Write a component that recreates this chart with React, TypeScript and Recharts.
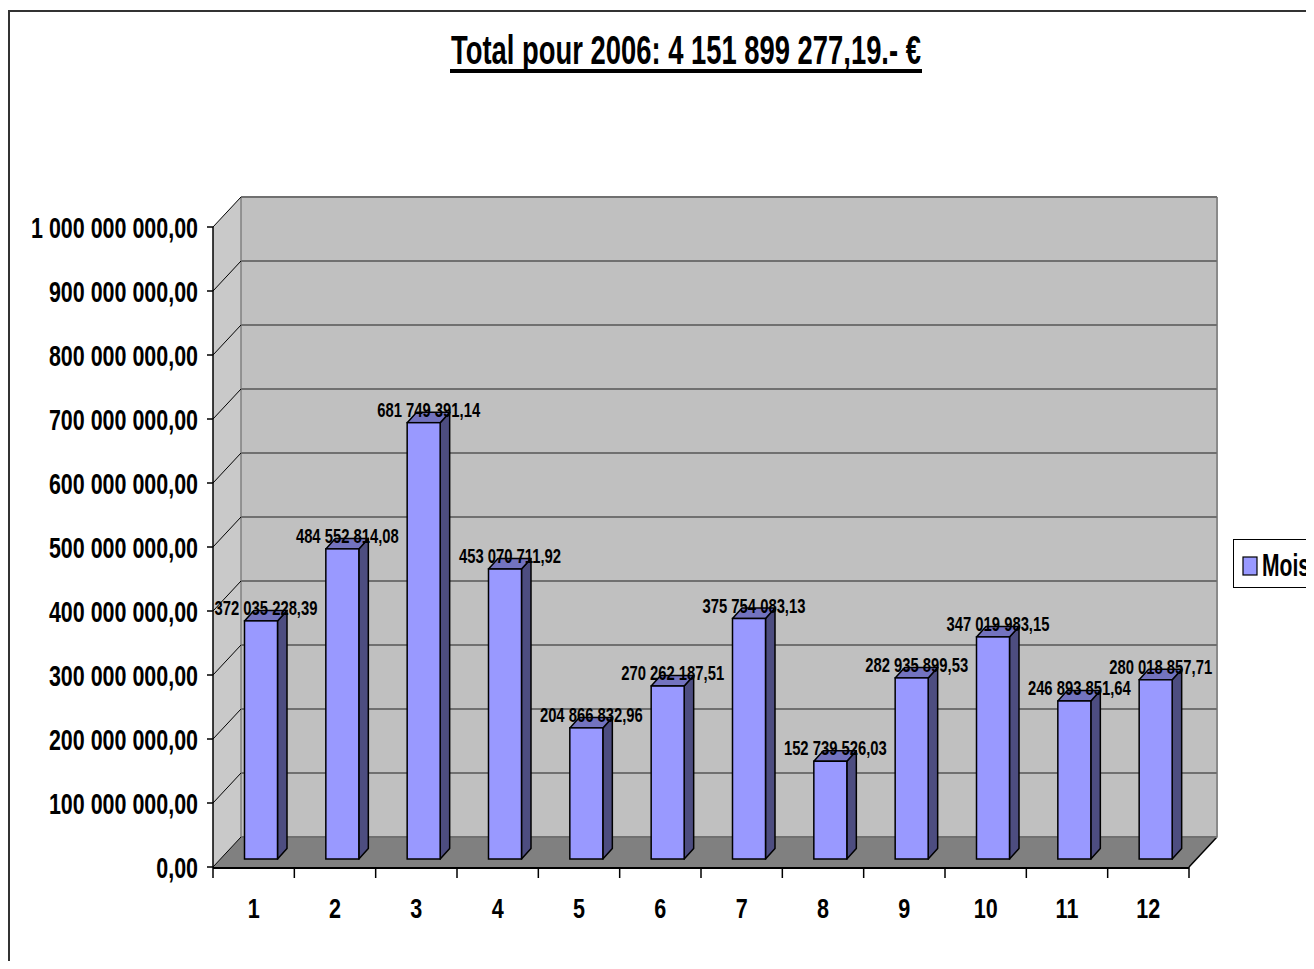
import React from 'react';
import { BarChart, Bar, XAxis, YAxis, CartesianGrid, LabelList } from 'recharts';

// ---- data ----
const months: string[] = ['1', '2', '3', '4', '5', '6', '7', '8', '9', '10', '11', '12'];
const totals: number[] = [
  372035228.39, 484552814.08, 681749391.14, 453070711.92, 204866832.96, 270262187.51,
  375754083.13, 152739526.03, 282935899.53, 347019983.15, 246893851.64, 280018857.71,
];
const yTicks: number[] = [0, 100000000, 200000000, 300000000, 400000000, 500000000, 600000000, 700000000, 800000000, 900000000, 1000000000];
const boundaryTicks: number[] = [0, 1, 2, 3, 4, 5, 6, 7, 8, 9, 10, 11, 12];
const titleText = 'Total pour 2006: 4 151 899 277,19.- €';
const seriesName = 'Mois';

const data = months.map((m, i) => ({ month: m, value: totals[i], pos: i + 0.5 }));

// ---- styling constants ----
const W = 1306;
const H = 953;
const FONT = "'Liberation Sans', Arial, sans-serif";
const DX = 28; // wall depth x
const DY = 30; // wall depth y
const BX = 7.5; // bar placement depth
const BY = 8;
const SX = 9.5; // bar own depth
const SY = 10.5;

function fmt(v: number): string {
  const [i, d] = v.toFixed(2).split('.');
  return i.replace(/\B(?=(\d{3})+(?!\d))/g, ' ') + ',' + d;
}

const YTick = (props: any) => {
  const { x, y, payload } = props;
  return (
    <text
      transform={`translate(${x},${y + 10.5}) scale(0.74,1)`}
      textAnchor="end"
      fontSize={29}
      fontWeight="bold"
      fontFamily={FONT}
      fill="#000"
    >
      {fmt(payload.value)}
    </text>
  );
};

const XTick = (props: any) => {
  const { x, y, payload } = props;
  return (
    <text
      transform={`translate(${x},${y}) scale(0.77,1)`}
      textAnchor="middle"
      fontSize={28}
      fontWeight="bold"
      fontFamily={FONT}
      fill="#000"
    >
      {payload.value}
    </text>
  );
};

const EmptyTick = () => <g />;

const GridLine = (props: any) => {
  const { x1, y1, x2, index, x, y, width, height } = props;
  const walls =
    index === 0 && x != null && width != null ? (
      <g>
        <polygon
          points={`${x},${y + height} ${x},${y} ${x + DX},${y - DY} ${x + DX},${y + height - DY}`}
          fill="#c9c9c9"
        />
        <rect x={x + DX} y={y - DY} width={width} height={height} fill="#c0c0c0" />
        <polygon
          points={`${x},${y + height} ${x + width},${y + height} ${x + width + DX},${y + height - DY} ${x + DX},${y + height - DY}`}
          fill="#808080"
        />
        <line x1={x + DX} y1={y - DY} x2={x + DX} y2={y + height - DY} stroke="#808080" strokeWidth={1.5} />
        <line x1={x + width + DX} y1={y - DY} x2={x + width + DX} y2={y + height - DY} stroke="#8a8a8a" strokeWidth={2} />
        <line x1={x + width} y1={y + height} x2={x + width + DX} y2={y + height - DY} stroke="#000" strokeWidth={1.5} />
      </g>
    ) : null;
  return (
    <g key={props.key}>
      {walls}
      <line x1={x1} y1={y1} x2={x1 + DX} y2={y1 - DY} stroke="#000" strokeWidth={1} />
      <line x1={x1 + DX} y1={y1 - DY} x2={x2 + DX} y2={y1 - DY} stroke="#707070" strokeWidth={1.8} />
    </g>
  );
};

const Bar3D = (props: any) => {
  const { x, y, width, height } = props;
  if (width == null || height == null) return null;
  const fx = x + BX;
  const fy = y - BY;
  return (
    <g>
      <polygon
        points={`${fx + width},${fy} ${fx + width + SX},${fy - SY} ${fx + width + SX},${fy + height - SY} ${fx + width},${fy + height}`}
        fill="#4D4D80"
        stroke="#000"
        strokeWidth={1.5}
        strokeLinejoin="round"
      />
      <polygon
        points={`${fx},${fy} ${fx + SX},${fy - SY} ${fx + width + SX},${fy - SY} ${fx + width},${fy}`}
        fill="#7373BF"
        stroke="#000"
        strokeWidth={1.5}
        strokeLinejoin="round"
      />
      <rect x={fx} y={fy} width={width} height={height} fill="#9999FF" stroke="#000" strokeWidth={1.5} />
    </g>
  );
};

const BarLabel = (props: any) => {
  const { x, y, width, value } = props;
  const cx = x + BX + width / 2 + 5;
  const by = y - BY - 6;
  return (
    <text
      transform={`translate(${cx},${by}) scale(0.76,1)`}
      textAnchor="middle"
      fontSize={19.5}
      fontWeight="bold"
      fontFamily={FONT}
      fill="#000"
    >
      {fmt(Number(value))}
    </text>
  );
};

export default function App() {
  React.useEffect(() => {
    document.documentElement.style.overflow = 'hidden';
  }, []);
  return (
    <div style={{ position: 'relative', width: W, height: H, overflow: 'hidden', background: '#fff' }}>
      <BarChart
        width={W}
        height={H}
        data={data}
        margin={{ top: 219, right: 125, bottom: 0, left: 0 }}
        barSize={33}
      >
        <CartesianGrid xAxisId="cat" vertical={false} horizontal={GridLine as any} />
        <XAxis
          xAxisId={0}
          type="number"
          dataKey="pos"
          domain={[0, 12]}
          ticks={boundaryTicks}
          height={1}
          axisLine={false}
          tick={<EmptyTick />}
          tickSize={11}
          tickLine={{ stroke: '#000', strokeWidth: 1.5 }}
          interval={0}
        />
        <XAxis
          xAxisId="cat"
          dataKey="month"
          height={93}
          tickLine={false}
          tickSize={0}
          tickMargin={50}
          axisLine={{ stroke: '#000', strokeWidth: 2 }}
          tick={<XTick />}
          interval={0}
        />
        <YAxis
          domain={[0, 1000000000]}
          ticks={yTicks}
          width={205}
          tickSize={6}
          tickMargin={9}
          interval={0}
          axisLine={{ stroke: '#000', strokeWidth: 1.5 }}
          tickLine={{ stroke: '#000', strokeWidth: 1.5 }}
          tick={<YTick />}
        />
        <Bar dataKey="value" name={seriesName} xAxisId="cat" shape={<Bar3D />} isAnimationActive={false}>
          <LabelList dataKey="value" content={<BarLabel />} />
        </Bar>
      </BarChart>
      <svg
        width={W}
        height={H}
        style={{ position: 'absolute', left: 0, top: 0, pointerEvents: 'none' }}
      >
        <rect x={1} y={3} width={2000} height={2000} fill="none" stroke="#333" strokeWidth={2} />
        <text
          transform={`translate(678,56) scale(0.685,1)`}
          textAnchor="middle"
          fontSize={40}
          fontWeight="bold"
          fontFamily={FONT}
          fill="#000"
        >
          {titleText}
        </text>
        <rect x={442} y={61} width={472} height={4} fill="#000" />
        <rect x={1225.5} y={531.5} width={200} height={48} fill="#fff" stroke="#000" strokeWidth={1} />
        <rect x={1235} y={549} width={14} height={18} fill="#9999FF" stroke="#000" strokeWidth={1.2} />
        <text
          transform={`translate(1254,568) scale(0.68,1)`}
          fontSize={31}
          fontWeight="bold"
          fontFamily={FONT}
          fill="#000"
        >
          {seriesName}
        </text>
      </svg>
    </div>
  );
}
